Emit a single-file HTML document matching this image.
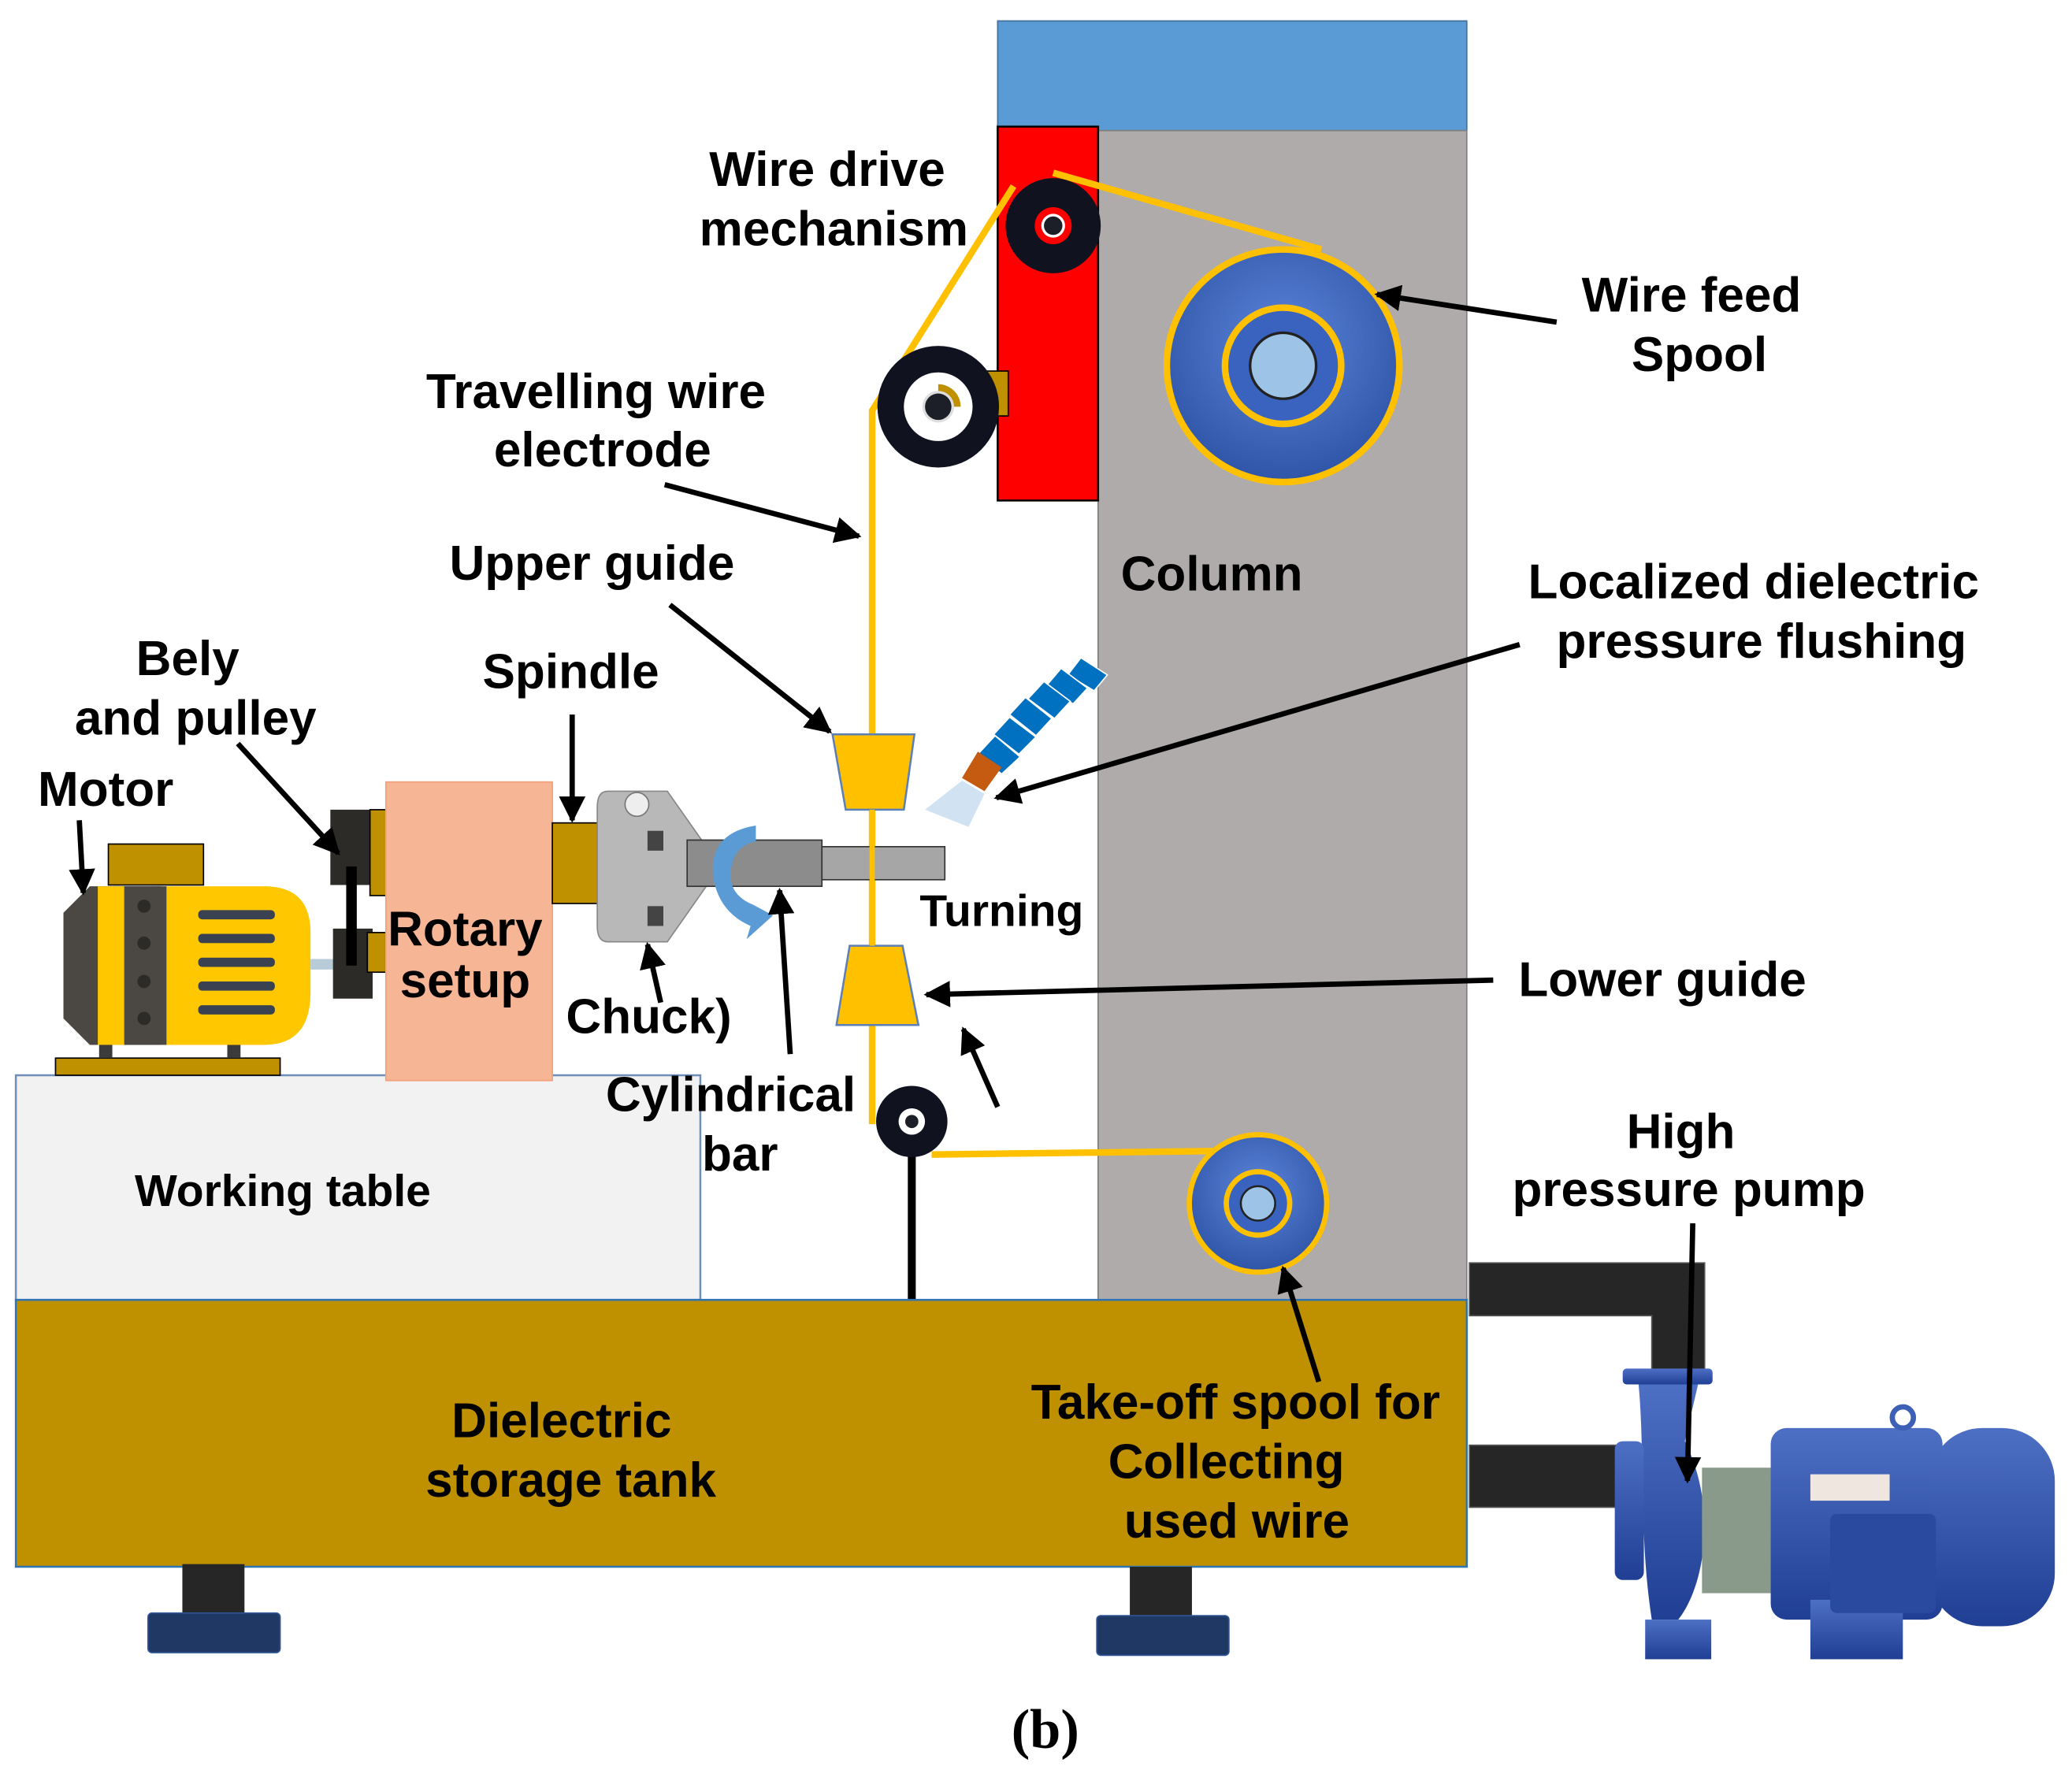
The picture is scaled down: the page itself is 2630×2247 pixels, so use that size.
<!DOCTYPE html>
<html><head><meta charset="utf-8"><style>
html,body{margin:0;padding:0;background:#fff}
svg{display:block}
text{font-family:"Liberation Sans",sans-serif;font-weight:bold;fill:#000}
</style></head><body>
<svg width="2630" height="2247" viewBox="0 0 1568 1338" xmlns="http://www.w3.org/2000/svg">
<defs>
<marker id="ah" viewBox="0 0 10 10" refX="9" refY="5" markerWidth="5" markerHeight="5" orient="auto-start-reverse"><path d="M0,0 L10,5 L0,10 z" fill="#000"/></marker>
<radialGradient id="spool" cx="50%" cy="40%" r="60%"><stop offset="0" stop-color="#5b84d8"/><stop offset="1" stop-color="#2f55a8"/></radialGradient>
<linearGradient id="pump" x1="0" y1="0" x2="0" y2="1"><stop offset="0" stop-color="#4d6fc4"/><stop offset="1" stop-color="#203f94"/></linearGradient>
</defs>
<rect x="755" y="15" width="355" height="83" fill="#5b9bd5" stroke="#41719c" stroke-width="1"/>
<rect x="831" y="98" width="279" height="885" fill="#afabab" stroke="#7f7f7f" stroke-width="1"/>
<rect x="755" y="95" width="76" height="283" fill="#ff0000" stroke="#000" stroke-width="1.5"/>
<circle cx="971" cy="276" r="88" fill="url(#spool)" stroke="#ffc000" stroke-width="5"/>
<circle cx="971" cy="276" r="44" fill="#3a63c0" stroke="#ffc000" stroke-width="5"/>
<circle cx="971" cy="276" r="25" fill="#9dc3e6" stroke="#222" stroke-width="2"/>
<polyline points="660,850 660,310 767,140" fill="none" stroke="#ffc000" stroke-width="5"/>
<polyline points="797,130 1000,188" fill="none" stroke="#ffc000" stroke-width="5"/>
<polyline points="705,873 950,870" fill="none" stroke="#ffc000" stroke-width="5"/>
<circle cx="797" cy="170" r="36" fill="#10131f"/>
<circle cx="797" cy="170" r="14" fill="#ff0000"/>
<circle cx="797" cy="170" r="9" fill="#fff"/>
<circle cx="797" cy="170" r="7" fill="#1c1f27"/>
<rect x="745" y="280" width="18" height="34" fill="#bf9000" stroke="#000"/>
<circle cx="710" cy="307" r="46" fill="#10131f"/>
<circle cx="710" cy="307" r="26" fill="#fff"/>
<path d="M710,290 A17,17 0 0 1 727,307 L710,307 Z" fill="#bf9000"/>
<circle cx="710" cy="307" r="12" fill="#ddd"/>
<circle cx="710" cy="307" r="10" fill="#1c1f27"/>
<polygon points="630,555 692,555 684,612 640,612" fill="#ffc000" stroke="#5b7fb8" stroke-width="1.5"/>
<polygon points="643,715 683,715 695,775 633,775" fill="#ffc000" stroke="#5b7fb8" stroke-width="1.5"/>
<line x1="690" y1="850" x2="690" y2="983" stroke="#000" stroke-width="6"/>
<circle cx="690" cy="848" r="27" fill="#10131f"/>
<circle cx="690" cy="848" r="10" fill="#fff"/>
<circle cx="690" cy="848" r="5" fill="#1c1f27"/>
<circle cx="952" cy="910" r="52" fill="url(#spool)" stroke="#ffc000" stroke-width="4"/>
<circle cx="952" cy="910" r="24" fill="#3a63c0" stroke="#ffc000" stroke-width="4"/>
<circle cx="952" cy="910" r="13" fill="#9dc3e6" stroke="#222" stroke-width="1.5"/>
<g fill="#0070c0" stroke="#fff" stroke-width="1">
<polygon points="818,497 838,510 828,522 808,510"/>
<polygon points="803,505 823,520 812,532 792,518"/>
<polygon points="790,515 810,530 798,543 778,528"/>
<polygon points="776,527 796,543 784,556 764,540"/>
<polygon points="764,542 784,557 771,570 752,555"/>
<polygon points="753,556 772,572 758,585 740,570"/>
</g>
<polygon points="740,568 758,580 745,598 728,588" fill="#c55a11"/>
<polygon points="728,590 745,600 733,625 700,612" fill="#bdd7ee" opacity="0.7"/>
<rect x="12" y="813" width="518" height="170" fill="#f2f2f2" stroke="#6e8fb8" stroke-width="1.5"/>
<rect x="12" y="983" width="1098" height="202" fill="#bf9000" stroke="#2f75b5" stroke-width="1.5"/>
<rect x="138" y="1183" width="47" height="37" fill="#262626"/>
<rect x="112" y="1220" width="100" height="30" rx="3" fill="#1f3864" stroke="#2f5597"/>
<rect x="855" y="1185" width="47" height="37" fill="#262626"/>
<rect x="830" y="1222" width="100" height="30" rx="3" fill="#1f3864" stroke="#2f5597"/>
<path d="M1112,955 H1290 V1040 H1250 V995 H1112 Z" fill="#262626" stroke="#555"/>
<rect x="1112" y="1093" width="113" height="47" fill="#262626" stroke="#555"/>
<g fill="url(#pump)">
<rect x="1228" y="1035" width="68" height="12" rx="3"/>
<path d="M1240,1047 H1285 L1275,1090 C1300,1140 1290,1200 1270,1225 H1250 C1240,1160 1245,1100 1240,1047 Z"/>
<rect x="1222" y="1090" width="22" height="105" rx="6"/>
<rect x="1245" y="1225" width="50" height="30"/>
<rect x="1288" y="1110" width="55" height="95" fill="#8a9a8a"/>
<rect x="1340" y="1080" width="130" height="145" rx="12"/>
<rect x="1370" y="1210" width="70" height="45"/>
<rect x="1460" y="1080" width="95" height="150" rx="40"/>
<circle cx="1440" cy="1072" r="8" fill="none" stroke="#3d5fb5" stroke-width="4"/>
</g>
<rect x="1370" y="1115" width="60" height="20" fill="#f0e6e0"/>
<rect x="1385" y="1145" width="80" height="75" rx="5" fill="#2a4aa0"/>
<rect x="42" y="800" width="170" height="13" fill="#bf9000" stroke="#000"/>
<rect x="75" y="780" width="10" height="20" fill="#3b3b3b"/>
<rect x="172" y="780" width="10" height="20" fill="#3b3b3b"/>
<rect x="82" y="638" width="72" height="31" fill="#bf9000" stroke="#000"/>
<path d="M118,670 H200 Q235,670 235,705 V750 Q235,790 200,790 H118 Z" fill="#ffc700"/>
<polygon points="68,670 122,670 122,790 68,790 48,770 48,690" fill="#4b4843"/>
<rect x="92" y="670" width="34" height="120" fill="#4b4843"/>
<rect x="74" y="670" width="20" height="120" fill="#ffc700"/>
<g fill="#3a4150"><rect x="150" y="688" width="58" height="7" rx="3"/><rect x="150" y="706" width="58" height="7" rx="3"/><rect x="150" y="724" width="58" height="7" rx="3"/><rect x="150" y="742" width="58" height="7" rx="3"/><rect x="150" y="760" width="58" height="7" rx="3"/></g>
<g fill="#2d2b28"><circle cx="109" cy="685" r="5"/><circle cx="109" cy="713" r="5"/><circle cx="109" cy="742" r="5"/><circle cx="109" cy="770" r="5"/></g>
<rect x="235" y="725" width="18" height="8" fill="#b7ccd8"/>
<rect x="250" y="612" width="33" height="57" fill="#2d2b28"/>
<rect x="252" y="702" width="30" height="53" fill="#2d2b28"/>
<rect x="262" y="655" width="8" height="75" fill="#000"/>
<rect x="280" y="612" width="14" height="65" fill="#bf9000" stroke="#000"/>
<rect x="278" y="705" width="14" height="30" fill="#bf9000" stroke="#000"/>
<rect x="292" y="591" width="126" height="226" fill="#f6b595" stroke="#f4a07a"/>
<rect x="418" y="622" width="37" height="61" fill="#bf9000" stroke="#000"/>
<path d="M460,598 H505 L545,655 L505,712 H460 Q452,712 452,700 V610 Q452,598 460,598 Z" fill="#b8b8b8" stroke="#888"/>
<circle cx="482" cy="608" r="9" fill="#eee" stroke="#777"/>
<rect x="490" y="628" width="12" height="15" fill="#444"/>
<rect x="490" y="685" width="12" height="15" fill="#444"/>
<rect x="520" y="635" width="102" height="35" fill="#8c8c8c" stroke="#333"/>
<rect x="622" y="640" width="93" height="25" fill="#a6a6a6" stroke="#333"/>
<line x1="660" y1="612" x2="660" y2="715" stroke="#ffc000" stroke-width="4"/>
<path d="M572,624 Q535,630 540,665 Q545,690 568,700 L565,710 L585,692 L570,684 Q555,678 553,665 Q552,640 572,636 Z" fill="#5b9bd5"/>
<g stroke="#000" stroke-width="4" fill="none" marker-end="url(#ah)">
<line x1="1178" y1="243" x2="1042" y2="222"/>
<line x1="503" y1="366" x2="650" y2="405"/>
<line x1="507" y1="457" x2="628" y2="553"/>
<line x1="1150" y1="487" x2="754" y2="603"/>
<line x1="180" y1="562" x2="256" y2="645"/>
<line x1="433" y1="540" x2="433" y2="620"/>
<line x1="60" y1="620" x2="63" y2="675"/>
<line x1="500" y1="758" x2="490" y2="714"/>
<line x1="598" y1="797" x2="590" y2="673"/>
<line x1="1130" y1="741" x2="701" y2="752"/>
<line x1="755" y1="837" x2="729" y2="778"/>
<line x1="1281" y1="925" x2="1277" y2="1120"/>
<line x1="998" y1="1045" x2="971" y2="959"/>
</g>
<g font-size="37" text-anchor="middle">
<text x="626" y="140">Wire drive</text>
<text x="631" y="185">mechanism</text>
<text x="1280" y="235">Wire feed</text>
<text x="1286" y="280">Spool</text>
<text x="451" y="308">Travelling wire</text>
<text x="456" y="352">electrode</text>
<text x="917" y="446">Column</text>
<text x="1327" y="452">Localized dielectric</text>
<text x="1333" y="497">pressure flushing</text>
<text x="448" y="438">Upper guide</text>
<text x="142" y="510">Bely</text>
<text x="148" y="555">and pulley</text>
<text x="432" y="520">Spindle</text>
<text x="80" y="609">Motor</text>
<text x="352" y="715">Rotary</text>
<text x="352" y="754">setup</text>
<text x="758" y="700" font-size="34">Turning</text>
<text x="491" y="781">Chuck)</text>
<text x="1258" y="753">Lower guide</text>
<text x="553" y="840">Cylindrical</text>
<text x="560" y="885">bar</text>
<text x="214" y="912" font-size="34">Working table</text>
<text x="1272" y="868">High</text>
<text x="1278" y="912">pressure pump</text>
<text x="425" y="1087">Dielectric</text>
<text x="432" y="1132">storage tank</text>
<text x="935" y="1073">Take-off spool for</text>
<text x="928" y="1118">Collecting</text>
<text x="936" y="1163">used wire</text>
</g>
<text x="791" y="1322" font-size="42" text-anchor="middle" style="font-family:'Liberation Serif',serif">(b)</text>
</svg>
</body></html>
